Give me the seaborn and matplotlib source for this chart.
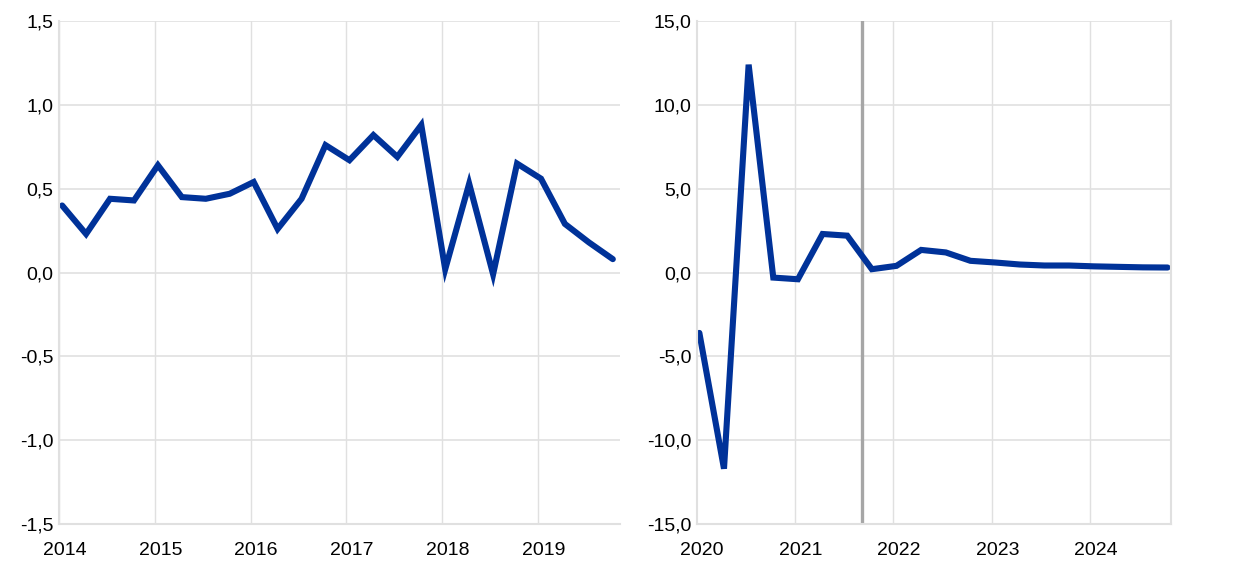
import matplotlib
matplotlib.use("Agg")
import matplotlib.pyplot as plt
from matplotlib.ticker import FuncFormatter, FixedLocator
import numpy as np
import pandas as pd
import seaborn as sns

# left panel: 2014Q1 - 2019Q4
left_years = ["2014", "2015", "2016", "2017", "2018", "2019"]
left_values = [0.40, 0.23, 0.44, 0.43, 0.64, 0.45, 0.44, 0.47, 0.54, 0.26, 0.44, 0.76,
               0.67, 0.82, 0.69, 0.88, 0.02, 0.53, -0.01, 0.65, 0.56, 0.29, 0.18, 0.08]

# right panel: 2020Q1 - 2024Q4
right_years = ["2020", "2021", "2022", "2023", "2024"]
right_values = [-3.6, -11.7, 12.4, -0.3, -0.4, 2.3, 2.2, 0.2, 0.4, 1.35,
                1.2, 0.7, 0.6, 0.48, 0.42, 0.42, 0.37, 0.34, 0.31, 0.30]
cutoff_quarter = 6.6

blue = "#003299"
grid = "#e0e0e0"

sns.set_style("white")
plt.rcParams["font.family"] = ["Liberation Sans", "DejaVu Sans"]
plt.rcParams["font.size"] = 14

fig = plt.figure(figsize=(12.4, 5.69), dpi=100)
ax1 = fig.add_axes([0.0476, 0.079, 0.4524, 0.884])
ax2 = fig.add_axes([0.562, 0.079, 0.382, 0.884])

comma = FuncFormatter(lambda v, p: f"{v:.1f}".replace(".", ","))

def style(ax, years, ylim, ystep, xlim, right_spine):
    ax.set_xlim(*xlim)
    ax.set_ylim(*ylim)
    ax.set_yticks(np.arange(ylim[0], ylim[1] + ystep / 2, ystep))
    ax.yaxis.set_major_formatter(comma)
    ax.set_xticks([4 * i + 0.1 for i in range(len(years))])
    ax.set_xticklabels(years)
    ax.xaxis.set_minor_locator(FixedLocator([4 * i - 0.13 for i in range(len(years))]))
    ax.grid(False)
    ax.grid(True, which="minor", axis="x", color=grid, lw=1)
    ax.grid(True, which="major", axis="y", color=grid, lw=1.2)
    ax.set_axisbelow(True)
    for s in ["top", "right"]:
        ax.spines[s].set_visible(False)
    for s in ["left", "bottom"]:
        ax.spines[s].set_color(grid)
        ax.spines[s].set_linewidth(1.5)
    if right_spine:
        ax.spines["right"].set_visible(True)
        ax.spines["right"].set_color(grid)
        ax.spines["right"].set_linewidth(1.5)
    ax.tick_params(axis="both", which="both", length=0, labelsize=14, colors="black")
    ax.tick_params(axis="x", pad=13)
    ax.tick_params(axis="y", pad=4)
    ax.set_xlabel("")
    ax.set_ylabel("")

df1 = pd.DataFrame({"q": np.arange(len(left_values)), "v": left_values})
df2 = pd.DataFrame({"q": np.arange(len(right_values)), "v": right_values})

sns.lineplot(data=df1, x="q", y="v", ax=ax1, color=blue, lw=4.4,
             solid_joinstyle="miter", solid_capstyle="round")
sns.lineplot(data=df2, x="q", y="v", ax=ax2, color=blue, lw=4.4,
             solid_joinstyle="miter", solid_capstyle="round")
ax2.axvline(cutoff_quarter, color="#a6a6a6", lw=2.4, zorder=1.5)

style(ax1, left_years, (-1.5, 1.5), 0.5, (-0.13, 23.3), False)
style(ax2, right_years, (-15, 15), 5, (-0.1, 19.12), True)

fig.savefig("out.png", dpi=100)
